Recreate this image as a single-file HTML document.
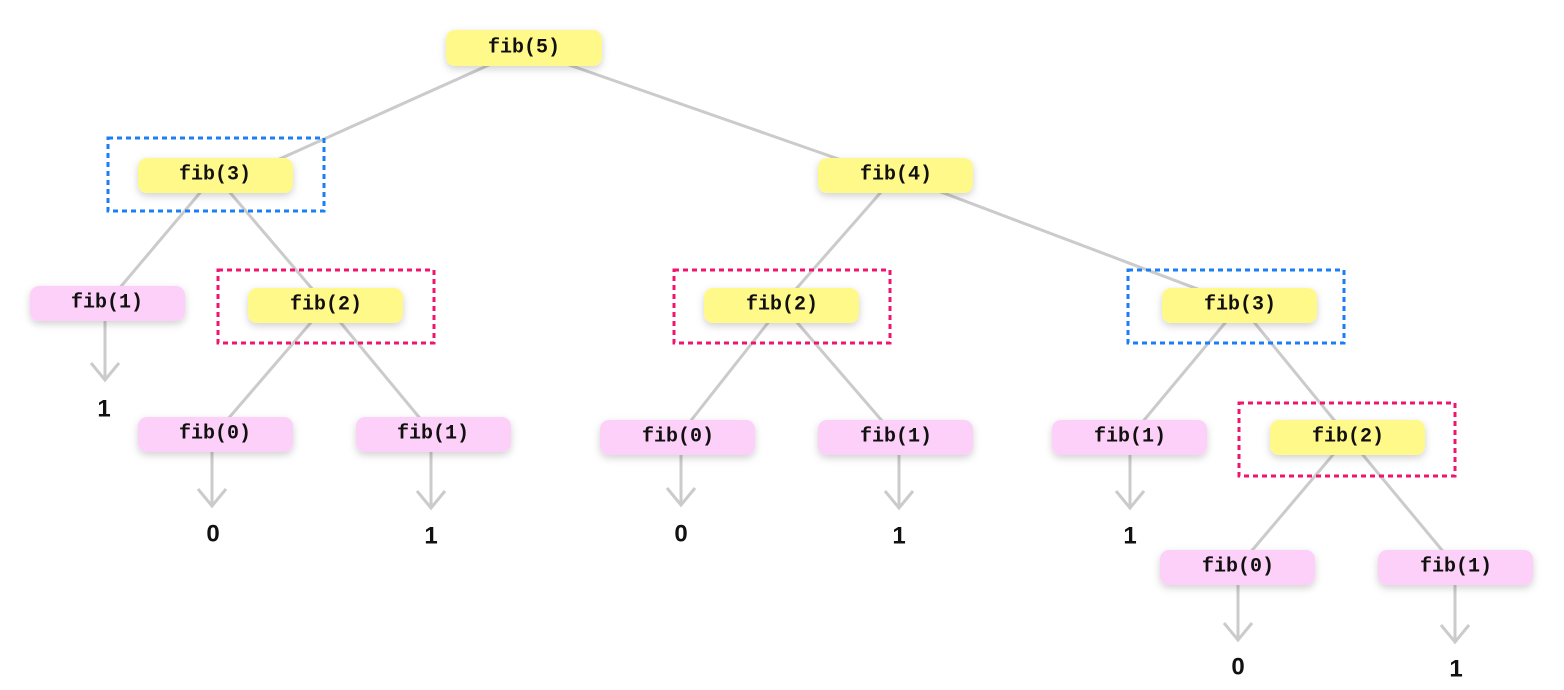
<!DOCTYPE html>
<html><head><meta charset="utf-8"><style>
html,body{margin:0;padding:0;background:#fff;}
svg{display:block}
.n{font-family:"Liberation Mono",monospace;font-weight:bold;font-size:20px;text-anchor:middle;dominant-baseline:central;fill:#111}
.v{font-family:"Liberation Sans",sans-serif;font-weight:bold;font-size:24px;text-anchor:middle;dominant-baseline:central;fill:#111}
</style></head><body>
<svg width="1564" height="690" viewBox="0 0 1564 690" xmlns="http://www.w3.org/2000/svg">
<defs><filter id="sh" x="-20%" y="-40%" width="140%" height="200%"><feDropShadow dx="0" dy="3" stdDeviation="4" flood-color="#000" flood-opacity="0.18"/></filter></defs>
<g stroke="#cbcbcb" stroke-width="3" fill="none">
<line x1="500" y1="60" x2="255" y2="170"/>
<line x1="555" y1="60" x2="870" y2="170"/>
<line x1="215" y1="175" x2="107" y2="303"/>
<line x1="215" y1="175" x2="326" y2="305"/>
<line x1="326" y1="305" x2="215" y2="434"/>
<line x1="326" y1="305" x2="433" y2="434"/>
<line x1="896" y1="175" x2="782" y2="305"/>
<line x1="896" y1="175" x2="1240" y2="305"/>
<line x1="782" y1="305" x2="678" y2="437"/>
<line x1="782" y1="305" x2="896" y2="437"/>
<line x1="1240" y1="305" x2="1130" y2="437"/>
<line x1="1240" y1="305" x2="1348" y2="437"/>
<line x1="1348" y1="437" x2="1238" y2="567"/>
<line x1="1348" y1="437" x2="1456" y2="567"/>
<path d="M105 321V380M91 363L105 380L119 363"/>
<path d="M212 452V506M198 489L212 506L226 489"/>
<path d="M431 452V508M417 491L431 508L445 491"/>
<path d="M681 455V505M667 488L681 505L695 488"/>
<path d="M899 455V508M885 491L899 508L913 491"/>
<path d="M1130 455V508M1116 491L1130 508L1144 491"/>
<path d="M1238 585V640M1224 623L1238 640L1252 623"/>
<path d="M1455 585V642M1441 625L1455 642L1469 625"/>
</g>
<g fill="none" stroke-width="3" stroke-dasharray="5,4">
<rect x="108" y="138" width="216" height="73" stroke="#1a7ef7"/>
<rect x="1128" y="270" width="216" height="73" stroke="#1a7ef7"/>
<rect x="218" y="270" width="216" height="73" stroke="#f0146e"/>
<rect x="674" y="270" width="216" height="73" stroke="#f0146e"/>
<rect x="1239" y="403" width="216" height="73" stroke="#f0146e"/>
</g>
<g filter="url(#sh)">
<rect x="446" y="30" width="156" height="36" rx="9" fill="#fff98a"/>
<rect x="138" y="158" width="155" height="35" rx="9" fill="#fff98a"/>
<rect x="818" y="158" width="155" height="35" rx="9" fill="#fff98a"/>
<rect x="30" y="286" width="155" height="35" rx="9" fill="#fdd0f9"/>
<rect x="248" y="288" width="155" height="35" rx="9" fill="#fff98a"/>
<rect x="138" y="417" width="155" height="35" rx="9" fill="#fdd0f9"/>
<rect x="356" y="417" width="155" height="35" rx="9" fill="#fdd0f9"/>
<rect x="704" y="288" width="155" height="35" rx="9" fill="#fff98a"/>
<rect x="1162" y="288" width="155" height="35" rx="9" fill="#fff98a"/>
<rect x="600" y="420" width="155" height="35" rx="9" fill="#fdd0f9"/>
<rect x="818" y="420" width="155" height="35" rx="9" fill="#fdd0f9"/>
<rect x="1052" y="420" width="155" height="35" rx="9" fill="#fdd0f9"/>
<rect x="1270" y="420" width="155" height="35" rx="9" fill="#fff98a"/>
<rect x="1160" y="550" width="155" height="35" rx="9" fill="#fdd0f9"/>
<rect x="1378" y="550" width="155" height="35" rx="9" fill="#fdd0f9"/>
</g>
<text class="n" x="524" y="48">fib(5)</text>
<text class="n" x="215" y="175">fib(3)</text>
<text class="n" x="896" y="175">fib(4)</text>
<text class="n" x="107" y="303">fib(1)</text>
<text class="n" x="326" y="305">fib(2)</text>
<text class="n" x="215" y="434">fib(0)</text>
<text class="n" x="433" y="434">fib(1)</text>
<text class="n" x="782" y="305">fib(2)</text>
<text class="n" x="1240" y="305">fib(3)</text>
<text class="n" x="678" y="437">fib(0)</text>
<text class="n" x="896" y="437">fib(1)</text>
<text class="n" x="1130" y="437">fib(1)</text>
<text class="n" x="1348" y="437">fib(2)</text>
<text class="n" x="1238" y="567">fib(0)</text>
<text class="n" x="1456" y="567">fib(1)</text>
<text class="v" x="104" y="409">1</text>
<text class="v" x="213" y="534">0</text>
<text class="v" x="431" y="536">1</text>
<text class="v" x="681" y="534">0</text>
<text class="v" x="899" y="536">1</text>
<text class="v" x="1130" y="536">1</text>
<text class="v" x="1238" y="667">0</text>
<text class="v" x="1456" y="669">1</text>
</svg>
</body></html>
